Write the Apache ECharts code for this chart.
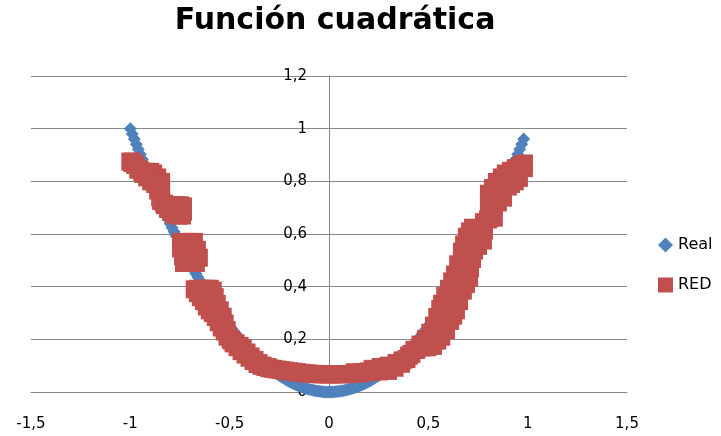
<!DOCTYPE html>
<html>
<head>
<meta charset="utf-8">
<script src="https://cdn.jsdelivr.net/npm/echarts@6/dist/echarts.min.js"></script>
<style>
html,body{margin:0;padding:0;background:#fff;}
#chart{width:721px;height:436px;}
</style>
</head>
<body>
<div id="chart"></div>
<script>
// ---- Data ----
var titleText = 'Función cuadrática';
var seriesNames = ['Real', 'RED'];

var realX = [-1.00,-0.99,-0.98,-0.97,-0.96,-0.95,-0.94,-0.93,-0.92,-0.91,-0.90,-0.89,-0.88,-0.87,-0.86,-0.85,-0.84,-0.83,-0.82,-0.81,
  -0.80,-0.79,-0.78,-0.77,-0.76,-0.75,-0.74,-0.73,-0.72,-0.71,-0.70,-0.69,-0.68,-0.67,-0.66,-0.65,-0.64,-0.63,-0.62,-0.61,
  -0.60,-0.59,-0.58,-0.57,-0.56,-0.55,-0.54,-0.53,-0.52,-0.51,-0.50,-0.49,-0.48,-0.47,-0.46,-0.45,-0.44,-0.43,-0.42,-0.41,
  -0.40,-0.39,-0.38,-0.37,-0.36,-0.35,-0.34,-0.33,-0.32,-0.31,-0.30,-0.29,-0.28,-0.27,-0.26,-0.25,-0.24,-0.23,-0.22,-0.21,
  -0.20,-0.19,-0.18,-0.17,-0.16,-0.15,-0.14,-0.13,-0.12,-0.11,-0.10,-0.09,-0.08,-0.07,-0.06,-0.05,-0.04,-0.03,-0.02,-0.01,
  0.00,0.01,0.02,0.03,0.04,0.05,0.06,0.07,0.08,0.09,0.10,0.11,0.12,0.13,0.14,0.15,0.16,0.17,0.18,0.19,
  0.20,0.21,0.22,0.23,0.24,0.25,0.26,0.27,0.28,0.29,0.30,0.31,0.32,0.33,0.34,0.35,0.36,0.37,0.38,0.39,
  0.40,0.41,0.42,0.43,0.44,0.45,0.46,0.47,0.48,0.49,0.50,0.51,0.52,0.53,0.54,0.55,0.56,0.57,0.58,0.59,
  0.60,0.61,0.62,0.63,0.64,0.65,0.66,0.67,0.68,0.69,0.70,0.71,0.72,0.73,0.74,0.75,0.76,0.77,0.78,0.79,
  0.80,0.81,0.82,0.83,0.84,0.85,0.86,0.87,0.88,0.89,0.90,0.91,0.92,0.93,0.94,0.95,0.96,0.97,0.98];
var realY = [1.0000,0.9801,0.9604,0.9409,0.9216,0.9025,0.8836,0.8649,0.8464,0.8281,0.8100,0.7921,0.7744,0.7569,0.7396,0.7225,0.7056,0.6889,0.6724,0.6561,
  0.6400,0.6241,0.6084,0.5929,0.5776,0.5625,0.5476,0.5329,0.5184,0.5041,0.4900,0.4761,0.4624,0.4489,0.4356,0.4225,0.4096,0.3969,0.3844,0.3721,
  0.3600,0.3481,0.3364,0.3249,0.3136,0.3025,0.2916,0.2809,0.2704,0.2601,0.2500,0.2401,0.2304,0.2209,0.2116,0.2025,0.1936,0.1849,0.1764,0.1681,
  0.1600,0.1521,0.1444,0.1369,0.1296,0.1225,0.1156,0.1089,0.1024,0.0961,0.0900,0.0841,0.0784,0.0729,0.0676,0.0625,0.0576,0.0529,0.0484,0.0441,
  0.0400,0.0361,0.0324,0.0289,0.0256,0.0225,0.0196,0.0169,0.0144,0.0121,0.0100,0.0081,0.0064,0.0049,0.0036,0.0025,0.0016,0.0009,0.0004,0.0001,
  0.0000,0.0001,0.0004,0.0009,0.0016,0.0025,0.0036,0.0049,0.0064,0.0081,0.0100,0.0121,0.0144,0.0169,0.0196,0.0225,0.0256,0.0289,0.0324,0.0361,
  0.0400,0.0441,0.0484,0.0529,0.0576,0.0625,0.0676,0.0729,0.0784,0.0841,0.0900,0.0961,0.1024,0.1089,0.1156,0.1225,0.1296,0.1369,0.1444,0.1521,
  0.1600,0.1681,0.1764,0.1849,0.1936,0.2025,0.2116,0.2209,0.2304,0.2401,0.2500,0.2601,0.2704,0.2809,0.2916,0.3025,0.3136,0.3249,0.3364,0.3481,
  0.3600,0.3721,0.3844,0.3969,0.4096,0.4225,0.4356,0.4489,0.4624,0.4761,0.4900,0.5041,0.5184,0.5329,0.5476,0.5625,0.5776,0.5929,0.6084,0.6241,
  0.6400,0.6561,0.6724,0.6889,0.7056,0.7225,0.7396,0.7569,0.7744,0.7921,0.8100,0.8281,0.8464,0.8649,0.8836,0.9025,0.9216,0.9409,0.9604];

// RED (network output), read as the squares that make up the red band
var redX = [
  // left, upper block
  -0.99,-0.975,-0.96,-0.94,-0.92,-0.90,-0.885,-0.865,-0.845,-0.845,-0.845,-0.825,-0.805,-0.785,-0.765,-0.75,-0.735,-0.735,-0.74,
  -1.00,-0.99,-0.975,-0.955,-0.935,-0.915,-0.895,-0.875,-0.86,-0.85,-0.83,-0.81,-0.795,-0.78,-0.76,
  // left, second block
  -0.745,-0.745,-0.735,-0.73,-0.715,-0.70,-0.68,-0.71,-0.695,-0.685,-0.665,-0.655,-0.67,
  // left, lower part
  -0.676,-0.66,-0.645,-0.63,-0.615,-0.60,-0.585,-0.57,-0.555,-0.54,-0.525,-0.51,-0.495,-0.48,-0.46,-0.44,-0.42,-0.40,-0.38,-0.36,-0.34,-0.32,-0.30,
  -0.66,-0.64,-0.62,-0.60,-0.585,-0.575,-0.565,-0.55,-0.535,-0.525,-0.515,-0.51,-0.49,-0.47,-0.45,-0.434,-0.415,-0.395,-0.375,-0.355,-0.334,-0.31,
  // bottom
  -0.28,-0.26,-0.24,-0.22,-0.20,-0.18,-0.16,-0.14,-0.12,-0.10,-0.08,-0.06,-0.04,-0.02,0.00,0.02,0.04,0.06,0.08,0.10,
  0.12,0.14,0.16,0.18,0.20,0.22,0.24,0.26,0.28,0.30,0.32,
  // right, upper-left edge
  0.22,0.26,0.30,0.34,0.37,0.403,0.43,0.46,0.488,0.51,0.528,0.545,0.56,0.569,0.585,0.604,0.62,0.634,0.65,0.669,0.68,0.694,0.71,0.725,
  0.805,0.805,0.805,0.825,0.845,0.87,0.89,0.916,0.94,0.966,0.98,
  // right, lower-right edge
  0.13,0.17,0.21,0.25,0.297,0.33,0.362,0.39,0.415,0.44,0.468,0.495,0.523,0.545,0.565,0.589,0.61,0.625,0.639,0.655,0.674,0.69,0.705,
  0.71,0.72,0.73,0.75,0.775,0.78,0.78,0.80,0.83,0.83,0.85,0.876,0.876,0.90,0.916,0.935,0.956,0.956,0.981,0.981];
var redY = [
  0.875,0.862,0.845,0.836,0.836,0.836,0.830,0.815,0.798,0.760,0.725,0.709,0.709,0.709,0.709,0.709,0.705,0.685,0.670,
  0.875,0.870,0.862,0.845,0.828,0.815,0.800,0.790,0.765,0.740,0.715,0.695,0.685,0.675,0.670,
  0.570,0.545,0.515,0.490,0.570,0.565,0.570,0.530,0.510,0.490,0.540,0.510,0.490,
  0.390,0.375,0.360,0.345,0.325,0.310,0.300,0.285,0.265,0.245,0.230,0.215,0.200,0.185,0.170,0.155,0.142,0.130,0.118,0.106,0.100,0.095,0.090,
  0.392,0.392,0.392,0.392,0.385,0.360,0.335,0.310,0.286,0.260,0.235,0.210,0.195,0.185,0.175,0.165,0.150,0.135,0.122,0.110,0.100,0.095,
  0.088,0.085,0.083,0.081,0.079,0.077,0.075,0.073,0.071,0.070,0.069,0.068,0.067,0.067,0.067,0.067,0.067,0.067,0.068,0.068,
  0.069,0.070,0.072,0.075,0.078,0.081,0.084,0.087,0.090,0.094,0.099,
  0.088,0.095,0.100,0.110,0.120,0.138,0.160,0.180,0.202,0.225,0.252,0.285,0.315,0.335,0.365,0.392,0.420,0.446,0.485,0.533,0.560,0.590,0.610,0.624,
  0.660,0.720,0.753,0.775,0.798,0.815,0.830,0.840,0.850,0.859,0.867,
  0.075,0.076,0.077,0.078,0.080,0.092,0.107,0.125,0.145,0.160,0.169,0.170,0.175,0.195,0.210,0.235,0.270,0.290,0.310,0.345,0.385,0.410,0.434,
  0.470,0.505,0.537,0.555,0.575,0.613,0.645,0.655,0.662,0.700,0.720,0.738,0.770,0.780,0.790,0.800,0.813,0.840,0.867,0.850];

var xTicks = {min: -1.5, max: 1.5, step: 0.5};
var yTicks = {min: 0, max: 1.2, step: 0.2};

function pairs(xs, ys){ var out=[]; for (var i=0;i<xs.length;i++) out.push([xs[i], ys[i]]); return out; }
function comma(v){ return String(Math.round(v*10)/10).replace('.', ','); }

var FONT = '"DejaVu Sans", Verdana, sans-serif';
var GRID = '#8a8a8a';
var GRID_LEFT = 31, GRID_WIDTH = 596;

var chart = echarts.init(document.getElementById('chart'), null, {renderer:'canvas'});
chart.setOption({
  animation: false,
  backgroundColor: '#ffffff',
  title: {
    text: titleText, left: 330, textAlign: 'center', top: 1,
    textStyle: {fontFamily: FONT, fontWeight: 'bold', fontSize: 30, color: '#000'}
  },
  legend: {
    orient: 'vertical', left: 658, top: 237, itemGap: 24, padding: 0,
    itemWidth: 15, itemHeight: 15,
    textStyle: {fontFamily: FONT, fontSize: 16, color: '#000'},
    data: [{name: seriesNames[0], icon: 'diamond'}, {name: seriesNames[1], icon: 'rect'}]
  },
  grid: {left: GRID_LEFT, width: GRID_WIDTH, top: 76, bottom: 44, containLabel: false, outerBoundsMode: 'none'},
  xAxis: {
    type: 'value', min: xTicks.min, max: xTicks.max, interval: xTicks.step,
    axisLine: {show: true, onZero: false, lineStyle: {color: GRID, width: 1}},
    axisTick: {show: false},
    splitLine: {show: false},
    axisLabel: {margin: 25, fontFamily: FONT, fontSize: 15, color: '#000', formatter: comma}
  },
  yAxis: {
    type: 'value', min: yTicks.min, max: yTicks.max, interval: yTicks.step,
    position: 'left', offset: -GRID_WIDTH / 2,
    axisLine: {show: true, onZero: false, lineStyle: {color: GRID, width: 1}},
    axisTick: {show: false},
    splitLine: {show: true, lineStyle: {color: GRID, width: 1}},
    axisLabel: {margin: 22, fontFamily: FONT, fontSize: 15, color: '#000', formatter: comma, padding: [3, 0, 0, 0]}
  },
  series: [
    {
      name: seriesNames[0], type: 'scatter', symbol: 'diamond', symbolSize: 13,
      itemStyle: {color: '#4F81BD', opacity: 1},
      data: pairs(realX, realY)
    },
    {
      name: seriesNames[1], type: 'scatter', symbol: 'rect', symbolSize: 18,
      itemStyle: {color: '#C0504D', opacity: 1},
      data: pairs(redX, redY)
    }
  ]
});
</script>
</body>
</html>
